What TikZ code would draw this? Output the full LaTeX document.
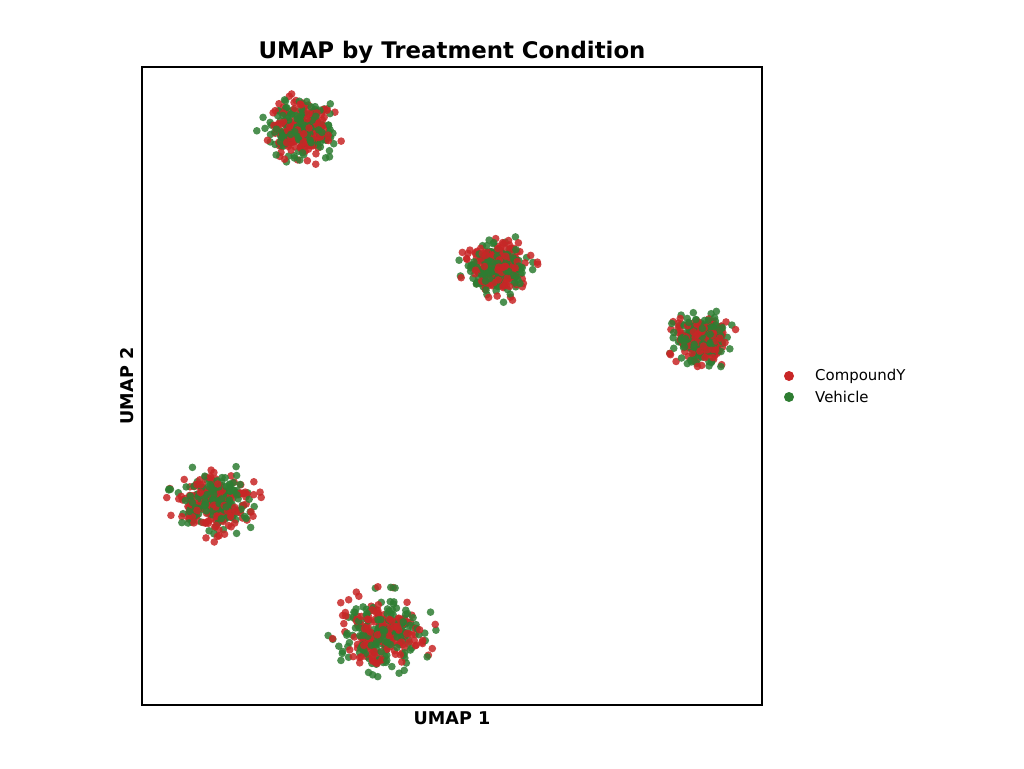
\documentclass[tikz,border=0pt]{standalone}
\usepackage{fontspec}
\setmainfont{DejaVu Sans}
\usepackage{tikz}
\definecolor{cmpred}{RGB}{200,38,38}
\definecolor{vehgreen}{RGB}{46,125,50}
\begin{document}
\begin{tikzpicture}[x=0.02cm, y=-0.02cm,
    % Styles
    dotred/.style={fill=cmpred, fill opacity=0.85, draw=none},
    dotgreen/.style={fill=vehgreen, fill opacity=0.85, draw=none},
    axlabel/.style={font=\fontsize{10}{12}\selectfont\bfseries}
]
\useasboundingbox (0,0) rectangle (1024,768);
\pgfmathsetseed{7}

% Clusters (roughly gaussian)
\foreach \cx/\cy/\rx/\ry in {300/130/40/34, 498/268/37/32, 702/340/33/29, 214/502/44/37, 382/632/50/42} {
    \foreach \i in {1,...,170} {
        \pgfmathsetmacro\ra{min(1.08,0.39*sqrt(-2*ln(max(rnd,0.0001))))}
        \pgfmathsetmacro\ta{360*rnd}
        \fill[dotred] ({\cx+\rx*\ra*cos(\ta)},{\cy+\ry*\ra*sin(\ta)}) circle (3.8);
        \pgfmathsetmacro\rb{min(1.08,0.39*sqrt(-2*ln(max(rnd,0.0001))))}
        \pgfmathsetmacro\tb{360*rnd}
        \fill[dotgreen] ({\cx+\rx*\rb*cos(\tb)},{\cy+\ry*\rb*sin(\tb)}) circle (3.8);
    }
}

% Frame and labels
\draw[line width=0.6pt] (142,67) rectangle (762,705);
\node[font=\fontsize{13}{15}\selectfont\bfseries] (title) at (452,52) {UMAP by Treatment Condition};
\node[axlabel] (xlab) at (452,718) {UMAP 1};
\node[axlabel, rotate=90] (ylab) at (127,386) {UMAP 2};

% Legend
\fill[cmpred] (789,376) circle (5);
\fill[vehgreen] (789,397) circle (5);
\node[anchor=west, font=\fontsize{8.5}{10}\selectfont] (legY) at (809,376) {CompoundY};
\node[anchor=west, font=\fontsize{8.5}{10}\selectfont] (legV) at (809,397) {Vehicle};
\end{tikzpicture}
\end{document}
